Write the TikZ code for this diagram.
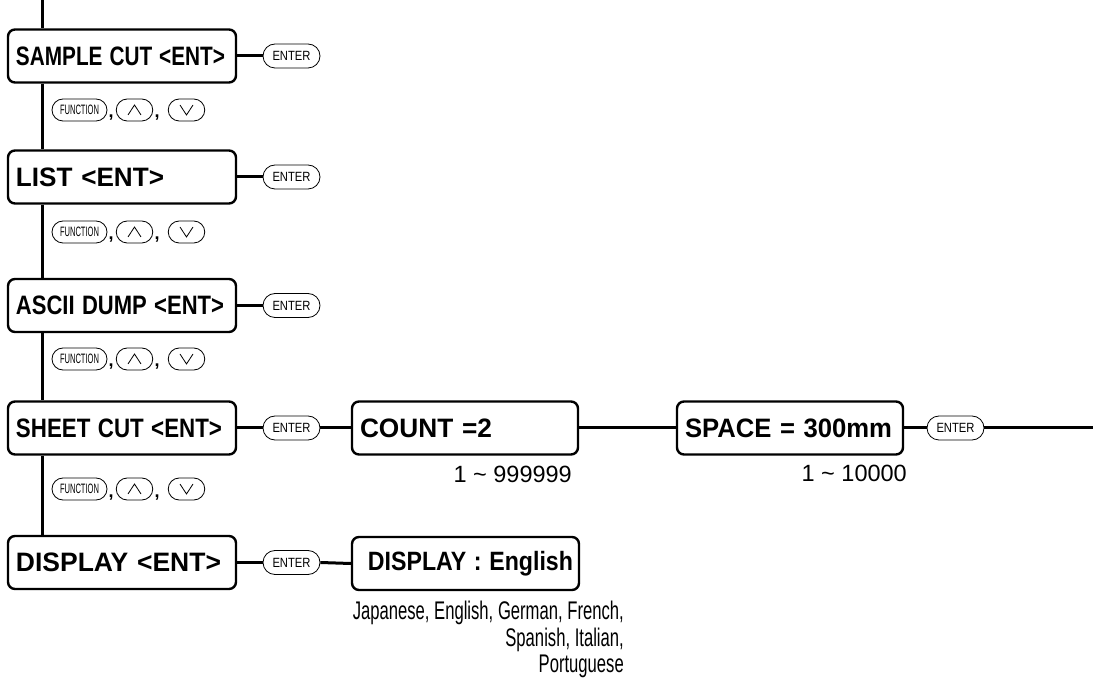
\documentclass[tikz,border=0pt]{standalone}
\usepackage{fontspec}
\setmainfont{Liberation Sans}
\usepackage{graphicx}
\usetikzlibrary{shapes.misc}
\newcommand{\fitto}[2]{\resizebox{#1pt}{\height}{#2}}
\newcommand{\fitwh}[3]{\resizebox{#1pt}{#2pt}{#3}}
\tikzset{
  conn/.style={line width=3pt},
  mbox/.style={draw, line width=2.4pt, rounded corners=7pt, fill=white,
    minimum height=53pt, inner ysep=0pt, inner xsep=8pt, align=left,
    font=\fontsize{25.6}{30}\selectfont\bfseries},
  keycap/.style={draw, rounded rectangle, line width=0.8pt, fill=white,
    minimum height=22pt, inner sep=0pt},
  enterkey/.style={keycap, minimum width=57pt, minimum height=24pt,
    font=\fontsize{12}{13}\selectfont},
  fnkey/.style={keycap, minimum width=55pt, font=\fontsize{13}{14}\selectfont},
  arkey/.style={keycap, minimum width=36.5pt},
  chevron/.style={line width=0.8pt, line join=miter},
  commalbl/.style={inner sep=0pt, anchor=base, font=\fontsize{18}{18}\selectfont\bfseries},
  rangelbl/.style={inner sep=0pt, anchor=east, font=\fontsize{23.5}{26}\selectfont}
}
\begin{document}
\begin{tikzpicture}[x=1pt, y=-1pt]
\useasboundingbox (0,0) rectangle (1093,692);

% main menu boxes
\node[mbox, text width=212pt] (sample) at (122,56) {\fitwh{209}{18.6}{SAMPLE CUT <ENT>}};
\node[mbox, text width=212pt] (list) at (122,177) {\fitwh{148}{18.6}{LIST <ENT>}};
\node[mbox, text width=212pt] (ascii) at (122,305.5) {\fitwh{208}{18.6}{ASCII DUMP <ENT>}};
\node[mbox, text width=212pt] (sheet) at (122,428) {\fitwh{206}{18.6}{SHEET CUT <ENT>}};
\node[mbox, text width=212pt] (disp) at (122,562.5) {\fitwh{205}{18.6}{DISPLAY <ENT>}};

% vertical spine
\coordinate (top) at (42,0);
\draw[conn] (top) -- (sample.north -| top);
\draw[conn] (sample.south -| top) -- (list.north -| top);
\draw[conn] (list.south -| top) -- (ascii.north -| top);
\draw[conn] (ascii.south -| top) -- (sheet.north -| top);
\draw[conn] (sheet.south -| top) -- (disp.north -| top);

% enter keys
\node[enterkey] (e1) at (291.5,56) {\fitwh{38}{9.2}{ENTER}};
\node[enterkey] (e2) at (291.5,177) {\fitwh{38}{9.2}{ENTER}};
\node[enterkey] (e3) at (291.5,305.5) {\fitwh{38}{9.2}{ENTER}};
\node[enterkey] (e4) at (291.5,428) {\fitwh{38}{9.2}{ENTER}};
\node[enterkey] (e5) at (291.5,562.5) {\fitwh{38}{9.2}{ENTER}};
\draw[conn] (sample.east) -- (e1.west);
\draw[conn] (list.east) -- (e2.west);
\draw[conn] (ascii.east) -- (e3.west);
\draw[conn] (sheet.east) -- (e4.west);
\draw[conn] (disp.east) -- (e5.west);

% function key rows
\foreach \r/\yy in {1/110, 2/232, 3/359, 4/489}{
  \node[fnkey] (fn\r) at (79.5,\yy) {\fitwh{39}{9.5}{FUNCTION}};
  \node[arkey] (up\r) at (134.5,\yy) {};
  \node[arkey] (dn\r) at (186.5,\yy) {};
  \draw[chevron] ([shift={(-6.5,5)}]up\r.center) -- ([shift={(0,-5)}]up\r.center) -- ([shift={(6.5,5)}]up\r.center);
  \draw[chevron] ([shift={(-6.5,-5)}]dn\r.center) -- ([shift={(0,5)}]dn\r.center) -- ([shift={(6.5,-5)}]dn\r.center);
  \node[commalbl] (ca\r) at (111,\yy+8) {,};
  \node[commalbl] (cb\r) at (157,\yy+8) {,};
}

% sheet cut sub-menu
\node[mbox, text width=210pt] (count) at (465,428) {\fitwh{132}{18.6}{COUNT =2}};
\node[mbox, text width=210pt] (space) at (790,428) {\fitwh{207}{18.6}{SPACE = 300mm}};
\node[enterkey] (e6) at (955.5,428) {\fitwh{38}{9.2}{ENTER}};
\coordinate (rend) at (1093,428);
\draw[conn] (e4.east) -- (count.west);
\draw[conn] (count.east) -- (space.west);
\draw[conn] (space.east) -- (e6.west);
\draw[conn] (e6.east) -- (rend);
\node[rangelbl] (r1) at (572,474) {1 \char"007E{} 999999};
\node[rangelbl] (r2) at (907,473) {1 \char"007E{} 10000};

% display sub-menu
\node[mbox, text width=215pt, inner xsep=6pt, align=right] (dispeng) at (465.5,563.5) {\fitwh{205}{19.2}{DISPLAY : English}};
\draw[conn] (e5.east) -- (dispeng.west);
\node[inner sep=0pt, anchor=base east, font=\fontsize{25.5}{26.5}\selectfont] (langs) at (624,619.5)
  {\fitto{271}{\begin{tabular}[t]{@{}r@{}}Japanese, English, German, French,\\ Spanish, Italian,\\ Portuguese\end{tabular}}};
\end{tikzpicture}
\end{document}
